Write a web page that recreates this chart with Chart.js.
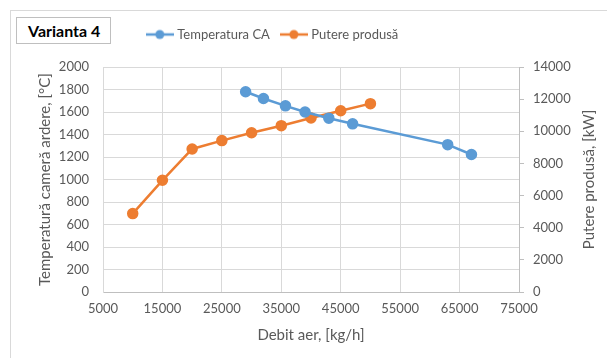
<!DOCTYPE html>
<html><head><meta charset="utf-8">
<script src="https://cdn.jsdelivr.net/npm/chart.js@4/dist/chart.umd.min.js"></script>
<style>
html,body{margin:0;padding:0;background:#fff;}
#wrap{position:relative;width:607px;height:358px;overflow:hidden;}
#frame{position:absolute;left:10px;top:10px;width:620px;height:380px;border:1px solid #d9d9d9;box-sizing:border-box;}
#c{position:absolute;left:0;top:0;}
#ttl{position:absolute;left:16px;top:17px;width:95px;height:27px;border:1px solid #bfbfbf;box-sizing:border-box;background:#fff;font:bold 16px Lato,"Liberation Sans",sans-serif;color:#000;line-height:25px;padding-left:11px;}
</style></head><body>
<div id="wrap"><div id="frame"></div><canvas id="c" width="607" height="358"></canvas><div id="ttl">Varianta 4</div></div>
<script>
const tempX = [29000, 32000, 35700, 39000, 43000, 47000, 63000, 67000];
const tempY = [1780, 1720, 1655, 1600, 1545, 1495, 1310, 1222];
const powerX = [10000, 15000, 20000, 25000, 30000, 35000, 40000, 45000, 50000];
const powerY = [4880, 6950, 8900, 9420, 9910, 10350, 10830, 11280, 11720];
const seriesNames = ["Temperatura CA", "Putere produsă"];
const xTitle = "Debit aer, [kg/h]";
const yTitle = "Temperatură cameră ardere, [°C]";
const y1Title = "Putere produsă, [kW]";

const BLUE = "#5B9BD5", ORANGE = "#ED7D31", TXT = "#595959";
const FONT = "Lato, 'Liberation Sans', sans-serif";
function legendIcon(color){
  const c = document.createElement('canvas'); c.width = 28; c.height = 12;
  const g = c.getContext('2d');
  g.strokeStyle = color; g.lineWidth = 2.5;
  g.beginPath(); g.moveTo(0,6); g.lineTo(28,6); g.stroke();
  g.fillStyle = color; g.beginPath(); g.arc(14,6,4.5,0,Math.PI*2); g.fill();
  return c;
}
const pts = (xs, ys) => xs.map((x,i)=>({x, y: ys[i]}));
const plain = v => String(v);

const rightTitle = {
  id: 'rightTitle',
  afterDraw(chart){
    const ca = chart.chartArea, ctx = chart.ctx;
    ctx.save();
    ctx.translate(589, (ca.top + ca.bottom)/2);
    ctx.rotate(-Math.PI/2);
    ctx.fillStyle = TXT; ctx.font = "15px " + FONT;
    ctx.textAlign = 'center'; ctx.textBaseline = 'middle';
    ctx.fillText(y1Title, 0, 0);
    ctx.restore();
  }
};

const chart = new Chart(document.getElementById('c'), {
  type: 'scatter',
  plugins: [rightTitle],
  data: { datasets: [
    { label: seriesNames[0], data: pts(tempX,tempY), yAxisID: 'y', showLine: true,
      borderColor: BLUE, backgroundColor: BLUE, borderWidth: 2.5, pointRadius: 4.5, pointHoverRadius: 4.5,
      pointStyle: 'circle', legendIcon: legendIcon(BLUE) },
    { label: seriesNames[1], data: pts(powerX,powerY), yAxisID: 'y1', showLine: true,
      borderColor: ORANGE, backgroundColor: ORANGE, borderWidth: 2.5, pointRadius: 4.5, pointHoverRadius: 4.5,
      pointStyle: 'circle', legendIcon: legendIcon(ORANGE) }
  ]},
  options: {
    responsive: false, animation: false, devicePixelRatio: 1,
    layout: { padding: { left: 20, right: 8, top: 15, bottom: 14 } },
    plugins: {
      tooltip: { enabled: false },
      legend: { position: 'top', align: 'center',
        labels: { usePointStyle: true, pointStyleWidth: 22, boxHeight: 12, padding: 13,
          color: TXT, font: { family: FONT, size: 13 },
          generateLabels(chart){
            return chart.data.datasets.map((d,i)=>({ text: d.label, pointStyle: d.legendIcon,
              fillStyle: d.borderColor, strokeStyle: d.borderColor, lineWidth: 0, fontColor: TXT, datasetIndex: i }));
          } } }
    },
    scales: {
      x: { type: 'linear', min: 5000, max: 75000,
        ticks: { stepSize: 10000, color: TXT, font: { family: FONT, size: 13 }, padding: 9, maxRotation: 0, callback: plain },
        grid: { color: '#d9d9d9', drawTicks: false },
        border: { color: '#bfbfbf' },
        title: { display: true, text: xTitle, color: TXT, font: { family: FONT, size: 15 }, padding: { top: 4, bottom: 0 } },
        afterFit(s){ s.height = 52; } },
      y: { position: 'left', min: 0, max: 2000,
        ticks: { stepSize: 200, color: TXT, font: { family: FONT, size: 13 }, padding: 14, callback: plain },
        grid: { color: '#d9d9d9', drawTicks: false },
        border: { color: '#d9d9d9' },
        title: { display: true, text: yTitle, color: TXT, font: { family: FONT, size: 15 }, padding: { top: 16, bottom: 4 } },
        afterFit(s){ s.width = 83; } },
      y1: { position: 'right', min: 0, max: 14000,
        ticks: { stepSize: 2000, color: TXT, font: { family: FONT, size: 13 }, padding: 9, callback: plain },
        grid: { drawOnChartArea: false, color: '#bfbfbf', tickLength: 5 },
        border: { color: '#bfbfbf' },
        title: { display: false },
        afterFit(s){ s.width = 80; } }
    }
  }
});
const lg = chart.legend;
const origFit = lg.fit, origDraw = lg.draw;
lg.fit = function(){ origFit.call(this); this.height += 16; };
lg.draw = function(){ const c = this.ctx; c.save(); c.translate(-36, 0); origDraw.apply(this, arguments); c.restore(); };
chart.update();
</script>
</body></html>
